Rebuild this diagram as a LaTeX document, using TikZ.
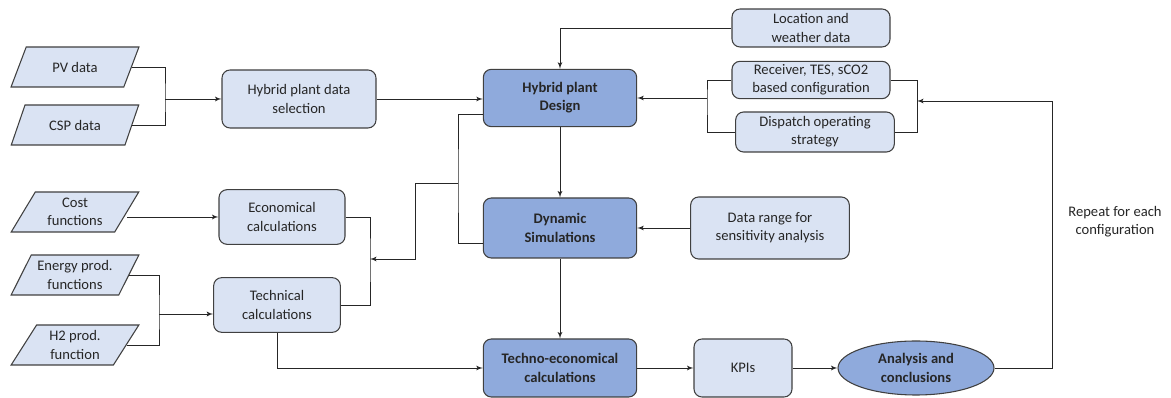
\documentclass[tikz,border=0pt,11pt]{standalone}
\usepackage{fontspec}
\setmainfont{Carlito}
\usepackage{tikz}
\usetikzlibrary{shapes,arrows,positioning,calc}
\definecolor{lightblue}{RGB}{218,227,243}
\definecolor{midblue}{RGB}{143,170,220}
\definecolor{edgegray}{RGB}{64,64,64}
\tikzset{
block/.style = {draw=edgegray, fill=lightblue, rectangle, rounded corners=6pt, align = center, inner sep=1pt, line width=0.8pt},
mainblock/.style = {block, fill=midblue, font=\bfseries},
dataio/.style = {draw=edgegray, fill=lightblue, trapezium, trapezium left angle=60, trapezium right angle=120, trapezium stretches=true, align = center, minimum width=96pt, minimum height=30pt, inner sep=1pt, line width=0.8pt},
result/.style = {draw=edgegray, fill=midblue, ellipse, align = center, font=\bfseries, inner sep=0pt, line width=0.8pt}
}
\begin{document}
\begin{tikzpicture}[auto, node distance=1.5cm, >=latex', x=1pt, y=1pt, line width=0.7pt, color=black!85]
    \useasboundingbox (0,0) rectangle (878.25,-298.5);
    % inputs
    \node [dataio, name=pv] at (56.25,-50.25) {PV data};
    \node [dataio, name=csp, below of = pv, node distance = 43.5pt] {CSP data};
    \node [dataio, name=cost, below of = csp, node distance = 65.25pt] {Cost\\ functions};
    \node [dataio, name=energy, below of = cost, node distance = 47.25pt] {Energy prod.\\ functions};
    \node [dataio, name=h2, below of = energy, node distance = 52.5pt] {H2 prod.\\ function};

    \node [block, name=sel, minimum width=115.5pt, minimum height=43.5pt] at (224.25,-74.25) {Hybrid plant data\\ selection};
    \node [block, name=econ, minimum width=94.5pt, minimum height=41pt] at (211.5,-162.75) {Economical\\ calculations};
    \node [block, name=tech, below of = econ, node distance = 66pt, xshift=-3.75pt, minimum width=95pt, minimum height=41pt] {Technical\\ calculations};

    \node [mainblock, name=design, minimum width=115pt, minimum height=43pt] at (420,-73.5) {Hybrid plant\\ Design};
    \node [mainblock, name=dyn, below of = design, node distance = 97.5pt, minimum width=115pt, minimum height=45pt] {Dynamic\\ Simulations};
    \node [mainblock, name=techno, below of = dyn, node distance = 105pt, minimum width=115pt, minimum height=43.5pt] {Techno-economical\\ calculations};

    \node [block, name=loc, minimum width=118.5pt, minimum height=28.5pt] at (608.25,-21) {Location and\\ weather data};
    \node [block, name=recv, below of = loc, node distance = 39pt, minimum width=118.5pt, minimum height=28pt] {Receiver, TES, sCO2\\ based configuration};
    \node [block, name=disp, below of = recv, node distance = 39pt, xshift=3pt, minimum width=119pt, minimum height=30pt] {Dispatch operating\\ strategy};
    \node [block, name=range, right of = dyn, node distance = 157.5pt, minimum width=119pt, minimum height=46.5pt] {Data range for\\ sensitivity analysis};
    \node [block, name=kpi, right of = techno, node distance = 137.25pt, minimum width=73.5pt, minimum height=43.5pt] {KPIs};
    \node [result, name=anal, right of = kpi, node distance = 129.75pt, minimum width=117pt, minimum height=40.5pt] {Analysis and\\ conclusions};
    \node [name=rep, align=center] at (836.25,-166.5) {Repeat for each\\ configuration};

    % junctions
    \coordinate (dataj) at (123.75,-74.25);
    \coordinate (cfgl) at (530.25,-73.5);
    \coordinate (cfgr) at (687.75,-75.75);
    \coordinate (loopc) at (789,-75.75);
    \coordinate (fbj) at (343.5,-137.25);
    \coordinate (fbk) at (311.25,-194.25);
    \coordinate (calcj) at (277.5,-194.25);
    \coordinate (prodj) at (119.25,-235.5);

    \draw [-] (pv.east) -| (dataj) |- (csp.east);
    \draw [->] (dataj) -- (dataj -| sel.west);
    \draw [->] (sel.east) -- (sel.east -| design.west);
    \draw [->] (loc.west) -| (design.north);
    \draw [-] (recv.west) -| (cfgl) |- (disp.west);
    \draw [->] (cfgl) -- (cfgl -| design.east);
    \draw [-] (recv.east) -| (cfgr) |- (disp.east);
    \draw [->] (anal.east) -| (loopc) -- (cfgr);
    \draw [->] (design) -- (dyn);
    \draw [->] (dyn) -- (techno);
    \draw [->] (range) -- (dyn);
    \draw [->] (techno) -- (kpi);
    \draw [->] (kpi) -- (anal);

    \draw [-] ([yshift=-12pt]design.west) -| (fbj) |- ([yshift=-11.25pt]dyn.west);
    \draw [->] (fbj) -| (fbk) -- (calcj);
    \draw [-] (econ.east) -| (calcj) |- (tech.east);
    \draw [->] (econ.west -| cost.east) -- (econ.west);
    \draw [-] (energy.east) -| (prodj) |- (h2.east);
    \draw [->] (prodj) -- (prodj -| tech.west);
    \draw [->] (tech.south) |- (techno.west);
\end{tikzpicture}
\end{document}
